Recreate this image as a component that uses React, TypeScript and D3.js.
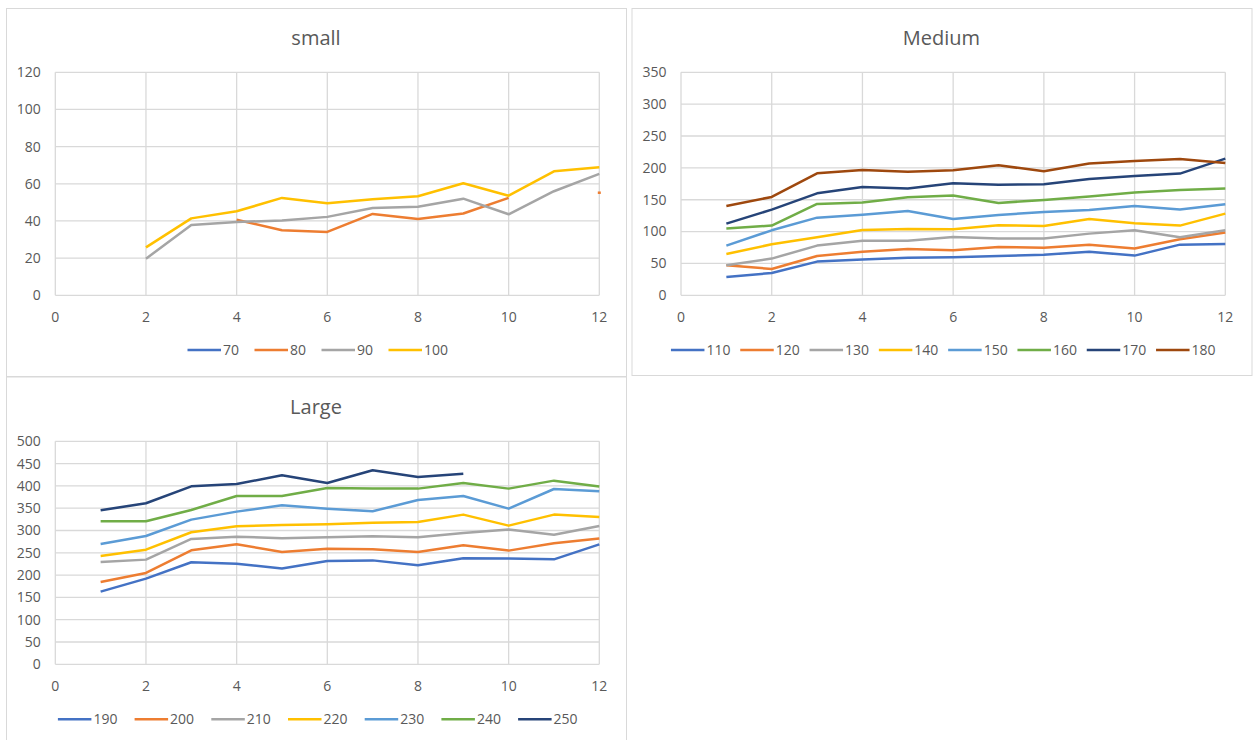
import React from "react";
import * as d3 from "d3";

type Val = number | null;

// x positions shared by every series (1..12)
const xValues = [1, 2, 3, 4, 5, 6, 7, 8, 9, 10, 11, 12];
const xTicks = [0, 2, 4, 6, 8, 10, 12];

const palette = ["#4472C4", "#ED7D31", "#A5A5A5", "#FFC000", "#5B9BD5", "#70AD47", "#264478", "#9E480E"];

// ---- small ----
const smallNames = ["70", "80", "90", "100"];
const small70: Val[] = [null, null, null, null, null, null, null, null, null, null, null, null];
const small80: Val[] = [null, null, null, 40.7, 35, 34.1, 43.8, 41.1, 44, 52.4, null, 55.2];
const small90: Val[] = [null, 19.7, 37.8, 39.5, 40.2, 42.2, 47, 47.7, 52, 43.6, 56, 65.3];
const small100: Val[] = [null, 25.8, 41.4, 45.2, 52.4, 49.5, 51.7, 53.3, 60.3, 53.6, 66.7, 68.9];
const smallYTicks = [0, 20, 40, 60, 80, 100, 120];

// ---- Medium ----
const mediumNames = ["110", "120", "130", "140", "150", "160", "170", "180"];
const med110: Val[] = [28.8, 35, 52.9, 56, 59, 59.7, 61.7, 63.8, 68.5, 62.3, 79.5, 80.6];
const med120: Val[] = [47, 41.3, 61.7, 68.5, 72.7, 70.6, 75.9, 74.8, 79.5, 73.3, 87.9, 98.4];
const med130: Val[] = [47, 57.6, 78, 85.8, 85.8, 91.6, 89, 89, 96.8, 102, 91, 102];
const med140: Val[] = [64.9, 80, 91, 102.6, 104, 103.6, 110, 108.8, 119.8, 113, 109.4, 128.2];
const med150: Val[] = [78, 102, 121.9, 126.6, 132.4, 119.8, 126.1, 130.8, 134, 140.2, 134.5, 142.9];
const med160: Val[] = [104.7, 109.4, 143.4, 145.5, 153.8, 156.5, 145, 149.7, 154.9, 161.2, 165.4, 167.5];
const med170: Val[] = [112.5, 134.5, 160, 170, 167.5, 175.8, 173.7, 174.3, 182.6, 187.3, 191, 214.5];
const med180: Val[] = [140.2, 154.4, 191.5, 196.8, 194.1, 196.2, 204, 194.7, 206.7, 210.9, 214, 207.7];
const mediumYTicks = [0, 50, 100, 150, 200, 250, 300, 350];

// ---- Large ----
const largeNames = ["190", "200", "210", "220", "230", "240", "250"];
const lg190: Val[] = [163, 192, 228.7, 225.7, 215, 231.7, 233, 222, 237.7, 237, 235.4, 269];
const lg200: Val[] = [184.6, 204.8, 255.6, 269, 251.9, 259.3, 257.8, 251.9, 266.8, 254.9, 271.3, 281.8];
const lg210: Val[] = [229.4, 234.7, 281, 286.2, 282.5, 284.8, 287, 284.8, 294.5, 302, 290.7, 310.2];
const lg220: Val[] = [242.9, 257, 296, 309.4, 312.4, 313.9, 317.6, 319.1, 335.6, 310.9, 335.6, 330.3];
const lg230: Val[] = [269.8, 287.7, 324.4, 342.3, 356.5, 349, 343, 368.5, 377.4, 349, 393, 387.9];
const lg240: Val[] = [320.6, 320.6, 346, 377.4, 377.4, 395.4, 393.9, 393.9, 406.6, 393.9, 411.8, 398.4];
const lg250: Val[] = [345.3, 361, 399, 404.3, 423.8, 406.6, 435, 420, 427.5, null, null, null];
const largeYTicks = [0, 50, 100, 150, 200, 250, 300, 350, 400, 450, 500];

const FONT = "'Open Sans', 'Noto Sans', sans-serif";
const TEXT = "#595959";
const GRID = "#d9d9d9";

interface PanelProps {
  title: string;
  names: string[];
  series: Val[][];
  yTicks: number[];
  box: { x: number; y: number; w: number; h: number };
  plot: { l: number; r: number; t: number; b: number };
  legendY: number;
  legendStep: number;
}

function Panel({ title, names, series, yTicks, box, plot, legendY, legendStep }: PanelProps) {
  const x = d3.scaleLinear().domain([0, 12]).range([plot.l, plot.r]);
  const y = d3.scaleLinear().domain([0, d3.max(yTicks) as number]).range([plot.b, plot.t]);
  const line = d3
    .line<Val>()
    .defined((d) => d != null)
    .x((_, i) => x(xValues[i]))
    .y((d) => y(d as number));

  const cx = box.x + box.w / 2;
  const legendWidth = (names.length - 1) * legendStep + 58;
  const legendStart = cx - legendWidth / 2 + 1;

  return (
    <g>
      <rect x={box.x + 0.5} y={box.y + 0.5} width={box.w} height={box.h} fill="#fff" stroke={GRID} strokeWidth={1} />
      <text x={cx} y={box.y + 30} textAnchor="middle" dy="0.35em" fontFamily={FONT} fontSize={20} fill={TEXT}>
        {title}
      </text>
      {/* horizontal gridlines */}
      {yTicks.map((t) => (
        <line key={"h" + t} x1={plot.l} x2={plot.r} y1={y(t)} y2={y(t)} stroke={GRID} strokeWidth={1.3} />
      ))}
      {/* vertical gridlines */}
      {xTicks.map((t) => (
        <line key={"v" + t} x1={x(t)} x2={x(t)} y1={plot.t} y2={plot.b} stroke={GRID} strokeWidth={1.3} />
      ))}
      {yTicks.map((t) => (
        <text key={"yl" + t} x={plot.l - 14.5} y={y(t)} dy="0.35em" textAnchor="end" fontFamily={FONT} fontSize={14} fill={TEXT}>
          {t}
        </text>
      ))}
      {xTicks.map((t) => (
        <text key={"xl" + t} x={x(t)} y={plot.b + 21.5} dy="0.35em" textAnchor="middle" fontFamily={FONT} fontSize={14} fill={TEXT}>
          {t}
        </text>
      ))}
      {series.map((s, i) => (
        <g key={"s" + i}>
          <path d={line(s) || ""} fill="none" stroke={palette[i]} strokeWidth={2.5} strokeLinejoin="round" />
          {s.map((v, j) =>
            v != null && s[j - 1] == null && s[j + 1] == null ? (
              <rect key={j} x={x(xValues[j]) - 1.5} y={y(v) - 1.25} width={3} height={2.5} fill={palette[i]} />
            ) : null
          )}
        </g>
      ))}
      {names.map((n, i) => {
        const lx = legendStart + i * legendStep;
        return (
          <g key={"lg" + n}>
            <line x1={lx} x2={lx + 33.5} y1={legendY} y2={legendY} stroke={palette[i]} strokeWidth={2.5} />
            <text x={lx + 35.5} y={legendY} dy="0.35em" fontFamily={FONT} fontSize={14} fill={TEXT}>
              {n}
            </text>
          </g>
        );
      })}
    </g>
  );
}

export default function App() {
  return (
    <div style={{ position: "absolute", left: 0, top: 0 }}>
      <svg width={1253} height={740} style={{ display: "block", background: "#fff" }}>
        <Panel
          title="small"
          names={smallNames}
          series={[small70, small80, small90, small100]}
          yTicks={smallYTicks}
          box={{ x: 6, y: 8, w: 620, h: 368 }}
          plot={{ l: 55.3, r: 599.3, t: 72.3, b: 295.3 }}
          legendY={350}
          legendStep={67}
        />
        <Panel
          title="Medium"
          names={mediumNames}
          series={[med110, med120, med130, med140, med150, med160, med170, med180]}
          yTicks={mediumYTicks}
          box={{ x: 631.5, y: 8, w: 620, h: 367 }}
          plot={{ l: 681, r: 1225.3, t: 72.3, b: 295.3 }}
          legendY={350}
          legendStep={69.3}
        />
        <Panel
          title="Large"
          names={largeNames}
          series={[lg190, lg200, lg210, lg220, lg230, lg240, lg250]}
          yTicks={largeYTicks}
          box={{ x: 6, y: 376.5, w: 620, h: 380 }}
          plot={{ l: 55.3, r: 599.3, t: 441.3, b: 664.3 }}
          legendY={719.3}
          legendStep={76.7}
        />
      </svg>
    </div>
  );
}
